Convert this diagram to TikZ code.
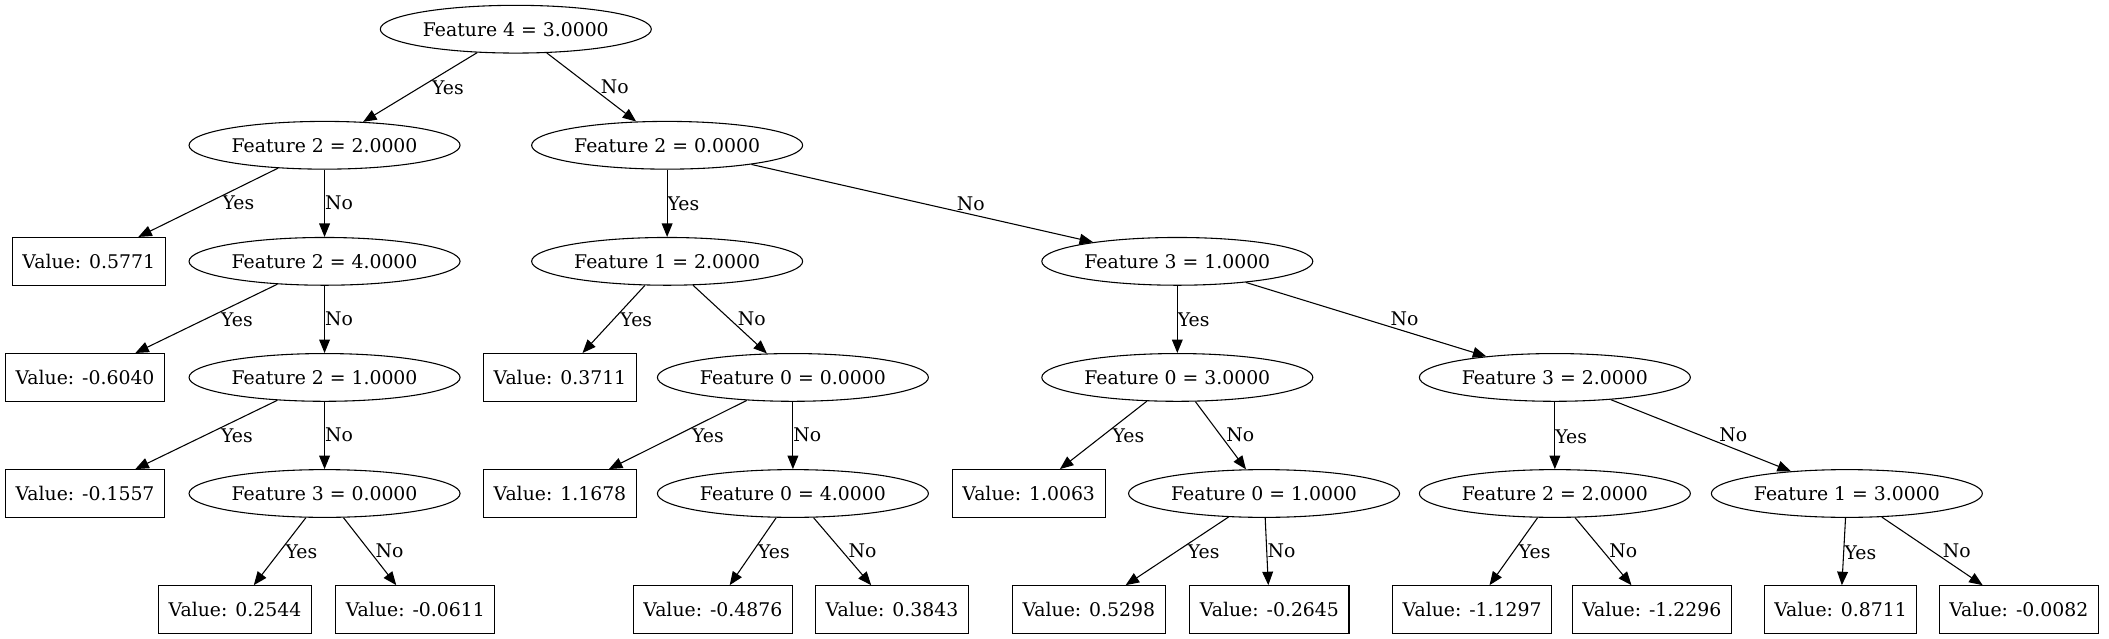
\documentclass[tikz,border=0pt]{standalone}
\usepackage{fontspec}
\setmainfont{DejaVu Serif}
\usepackage{tikz}
\usetikzlibrary{arrows.meta,shapes.geometric}

\begin{document}
\begin{tikzpicture}[
  x=1pt,y=-1pt,
  cond/.style={draw,ellipse,line width=0.8pt,minimum width=201.5pt,minimum height=35.5pt,inner sep=0pt,font=\fontsize{14}{17}\selectfont},
  leaf/.style={draw,rectangle,line width=0.8pt,minimum height=35.5pt,inner xsep=7.5pt,inner ysep=0pt,font=\fontsize{14}{17}\selectfont},
  arr/.style={-{Triangle[length=10pt,width=8pt]},line width=0.8pt},
  ylab/.style={pos=.4,anchor=north west,inner sep=0pt,font=\fontsize{14}{17}\selectfont},
  nlab/.style={pos=.6,anchor=south west,inner sep=0pt,font=\fontsize{14}{17}\selectfont}
]
\useasboundingbox (0,0) rectangle (1568,475);
\node[cond] (root)   at (383.5,21.7)  {Feature 4 = 3.0000};
\node[cond] (f2eq2)  at (241.3,108)   {Feature 2 = 2.0000};
\node[cond] (f2eq0)  at (496,108)     {Feature 2 = 0.0000};
\node[leaf] (v0577)  at (66,194.3)    {Value: 0.5771};
\node[cond] (f2eq4)  at (241.3,194.3) {Feature 2 = 4.0000};
\node[cond] (f1eq2)  at (496,194.3)   {Feature 1 = 2.0000};
\node[cond] (f3eq1)  at (875.3,194.3) {Feature 3 = 1.0000};
\node[leaf] (vm0604) at (63.2,280.6)  {Value: -0.6040};
\node[cond] (f2eq1)  at (241.3,280.6) {Feature 2 = 1.0000};
\node[leaf] (v0371)  at (416.3,280.6) {Value: 0.3711};
\node[cond] (f0eq0)  at (589.5,280.6) {Feature 0 = 0.0000};
\node[cond] (f0eq3)  at (875.3,280.6) {Feature 0 = 3.0000};
\node[cond] (f3eq2)  at (1156,280.6)  {Feature 3 = 2.0000};
\node[leaf] (vm0156) at (63.2,366.9)  {Value: -0.1557};
\node[cond] (f3eq0)  at (241.3,366.9) {Feature 3 = 0.0000};
\node[leaf] (v1168)  at (416.3,366.9) {Value: 1.1678};
\node[cond] (f0eq4)  at (589.5,366.9) {Feature 0 = 4.0000};
\node[leaf] (v1006)  at (764.8,366.9) {Value: 1.0063};
\node[cond] (f0eq1)  at (939.8,366.9) {Feature 0 = 1.0000};
\node[cond] (f2eq2b) at (1156,366.9)  {Feature 2 = 2.0000};
\node[cond] (f1eq3)  at (1373.1,366.9) {Feature 1 = 3.0000};
\node[leaf] (v0254)  at (174.7,453.2) {Value: 0.2544};
\node[leaf] (vm0061) at (308.8,453.2) {Value: -0.0611};
\node[leaf] (vm0488) at (530,453.2)   {Value: -0.4876};
\node[leaf] (v0384)  at (663.2,453.2) {Value: 0.3843};
\node[leaf] (v0530)  at (809.5,453.2) {Value: 0.5298};
\node[leaf] (vm0265) at (943.8,453.2) {Value: -0.2645};
\node[leaf] (vm1130) at (1094.5,453.2) {Value: -1.1297};
\node[leaf] (vm1230) at (1228.1,453.2) {Value: -1.2296};
\node[leaf] (v0871)  at (1368.4,453.2) {Value: 0.8711};
\node[leaf] (vm0008) at (1500.9,453.2) {Value: -0.0082};
\draw[arr] (root) -- node[ylab] {Yes} (f2eq2);
\draw[arr] (root) -- node[nlab] {No} (f2eq0);
\draw[arr] (f2eq2) -- node[ylab] {Yes} (v0577);
\draw[arr] (f2eq2) -- node[nlab] {No} (f2eq4);
\draw[arr] (f2eq4) -- node[ylab] {Yes} (vm0604);
\draw[arr] (f2eq4) -- node[nlab] {No} (f2eq1);
\draw[arr] (f2eq1) -- node[ylab] {Yes} (vm0156);
\draw[arr] (f2eq1) -- node[nlab] {No} (f3eq0);
\draw[arr] (f3eq0) -- node[ylab] {Yes} (v0254);
\draw[arr] (f3eq0) -- node[nlab] {No} (vm0061);
\draw[arr] (f2eq0) -- node[ylab] {Yes} (f1eq2);
\draw[arr] (f2eq0) -- node[nlab] {No} (f3eq1);
\draw[arr] (f1eq2) -- node[ylab] {Yes} (v0371);
\draw[arr] (f1eq2) -- node[nlab] {No} (f0eq0);
\draw[arr] (f0eq0) -- node[ylab] {Yes} (v1168);
\draw[arr] (f0eq0) -- node[nlab] {No} (f0eq4);
\draw[arr] (f0eq4) -- node[ylab] {Yes} (vm0488);
\draw[arr] (f0eq4) -- node[nlab] {No} (v0384);
\draw[arr] (f3eq1) -- node[ylab] {Yes} (f0eq3);
\draw[arr] (f3eq1) -- node[nlab] {No} (f3eq2);
\draw[arr] (f0eq3) -- node[ylab] {Yes} (v1006);
\draw[arr] (f0eq3) -- node[nlab] {No} (f0eq1);
\draw[arr] (f0eq1) -- node[ylab] {Yes} (v0530);
\draw[arr] (f0eq1) -- node[nlab] {No} (vm0265);
\draw[arr] (f3eq2) -- node[ylab] {Yes} (f2eq2b);
\draw[arr] (f3eq2) -- node[nlab] {No} (f1eq3);
\draw[arr] (f2eq2b) -- node[ylab] {Yes} (vm1130);
\draw[arr] (f2eq2b) -- node[nlab] {No} (vm1230);
\draw[arr] (f1eq3) -- node[ylab] {Yes} (v0871);
\draw[arr] (f1eq3) -- node[nlab] {No} (vm0008);
\end{tikzpicture}
\end{document}
